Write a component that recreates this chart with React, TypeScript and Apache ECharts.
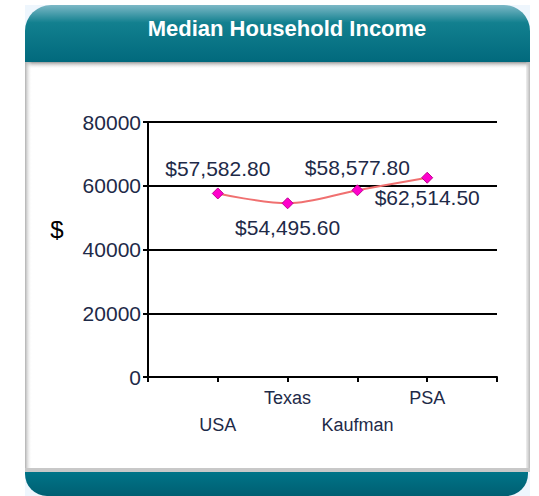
import React, { useEffect, useRef } from "react";
import * as echarts from "echarts";

const categories = ["", "USA", "Texas", "Kaufman", "PSA", ""];
const incomeValues = [null, 57582.8, 54495.6, 58577.8, 62514.5, null];
const labelSides = ["", "top", "bottom", "top", "bottom", ""];
const labelDistances = [0, 8, 8, 6, 3, 0];
const yTicks = { min: 0, max: 80000, interval: 20000 };
const titleText = "Median Household Income";
const yName = "$";

const FONT = '"Liberation Sans", Arial, sans-serif';

export default function App() {
  const ref = useRef<HTMLDivElement>(null);
  useEffect(() => {
    if (!ref.current) return;
    const chart = echarts.init(ref.current, null, { renderer: "svg" });
    const fmt = (v: number) =>
      "$" + v.toLocaleString("en-US", { minimumFractionDigits: 2, maximumFractionDigits: 2 });
    const seriesData = incomeValues.map((v, i) =>
      v == null
        ? null
        : {
            value: v,
            label: { position: labelSides[i], distance: labelDistances[i] },
          }
    );
    const PX = 25;
    const PW = 505;
    chart.setOption({
      animation: false,
      backgroundColor: "#FFFFFF",
      graphic: [
        {
          type: "rect",
          shape: { x: PX, y: 5, width: PW, height: 491 },
          style: { fill: "#EEF6FD" },
          z: 0,
        },
        // header
        {
          type: "rect",
          shape: { x: PX, y: 5, width: PW, height: 59, r: [26, 26, 0, 0] },
          style: {
            fill: new echarts.graphic.LinearGradient(0, 0, 0, 1, [
              { offset: 0, color: "#7CB8C6" },
              { offset: 0.3, color: "#12808F" },
              { offset: 1, color: "#00687C" },
            ]),
          },
          z: 0,
        },
        // body
        {
          type: "rect",
          shape: { x: PX, y: 62, width: PW, height: 410 },
          style: { fill: "#FFFFFF" },
          z: 0,
        },
        {
          type: "rect",
          shape: { x: PX, y: 62, width: PW, height: 7 },
          style: {
            fill: new echarts.graphic.LinearGradient(0, 0, 0, 1, [
              { offset: 0, color: "#9A9A9A" },
              { offset: 1, color: "rgba(255,255,255,0)" },
            ]),
          },
          z: 1,
        },
        {
          type: "rect",
          shape: { x: PX, y: 62, width: 7, height: 410 },
          style: {
            fill: new echarts.graphic.LinearGradient(0, 0, 1, 0, [
              { offset: 0, color: "#B0B0B0" },
              { offset: 1, color: "rgba(255,255,255,0)" },
            ]),
          },
          z: 1,
        },
        {
          type: "rect",
          shape: { x: PX + PW - 4, y: 62, width: 4, height: 410 },
          style: {
            fill: new echarts.graphic.LinearGradient(0, 0, 1, 0, [
              { offset: 0, color: "rgba(200,200,200,0.3)" },
              { offset: 1, color: "#B8B8B8" },
            ]),
          },
          z: 1,
        },
        {
          type: "rect",
          shape: { x: PX, y: 468, width: PW, height: 4 },
          style: { fill: "#C8C8C8" },
          z: 1,
        },
        // bottom bar
        {
          type: "rect",
          shape: { x: PX, y: 472, width: PW - 2, height: 24, r: [0, 0, 22, 22] },
          style: {
            fill: new echarts.graphic.LinearGradient(0, 0, 0, 1, [
              { offset: 0, color: "#007488" },
              { offset: 1, color: "#005F72" },
            ]),
          },
          z: 1,
        },
        {
          type: "text",
          x: 287,
          y: 28,
          style: {
            text: titleText,
            fill: "#FFFFFF",
            font: `bold 22px ${FONT}`,
            align: "center",
            verticalAlign: "middle",
          },
          z: 2,
        },
        {
          type: "text",
          x: 57,
          y: 229,
          style: {
            text: yName,
            fill: "#000000",
            font: `24px ${FONT}`,
            align: "center",
            verticalAlign: "middle",
          },
          z: 2,
        },
      ],
      grid: { left: 148, right: 42, top: 122, bottom: 119 },
      xAxis: {
        type: "category",
        data: categories,
        boundaryGap: false,
        axisLine: { lineStyle: { color: "#000", width: 2 } },
        axisTick: { interval: 0, length: 5, lineStyle: { color: "#000", width: 2 } },
        axisLabel: {
          interval: 0,
          margin: 7,
          fontSize: 18,
          fontFamily: FONT,
          color: "#1E2A48",
          lineHeight: 27,
          formatter: (v: string, i: number) => (i % 2 === 1 ? "\n" + v : v),
        },
        splitLine: { show: false },
      },
      yAxis: {
        type: "value",
        min: yTicks.min,
        max: yTicks.max,
        interval: yTicks.interval,
        axisLine: { show: true, lineStyle: { color: "#000", width: 2 } },
        axisTick: { show: true, length: 5, lineStyle: { color: "#000", width: 2 } },
        axisLabel: {
          margin: 7,
          fontSize: 21,
          fontFamily: FONT,
          color: "#1E2A48",
          formatter: (v: number) => String(v),
        },
        splitLine: { show: true, lineStyle: { color: "#000", width: 2 } },
      },
      series: [
        {
          type: "line",
          data: seriesData,
          smooth: 0.35,
          symbol: "diamond",
          symbolSize: 11,
          itemStyle: { color: "#FF00CC", borderColor: "#C0008F", borderWidth: 1 },
          lineStyle: { color: "#F07070", width: 2 },
          label: {
            show: true,
            fontSize: 21,
            fontFamily: FONT,
            color: "#1E2A48",
            formatter: (p: any) => fmt(p.value),
          },
          z: 5,
        },
      ],
    });
    return () => chart.dispose();
  }, []);
  return (
    <div
      ref={ref}
      style={{ position: "fixed", left: 0, top: 0, width: 539, height: 496 }}
    />
  );
}
